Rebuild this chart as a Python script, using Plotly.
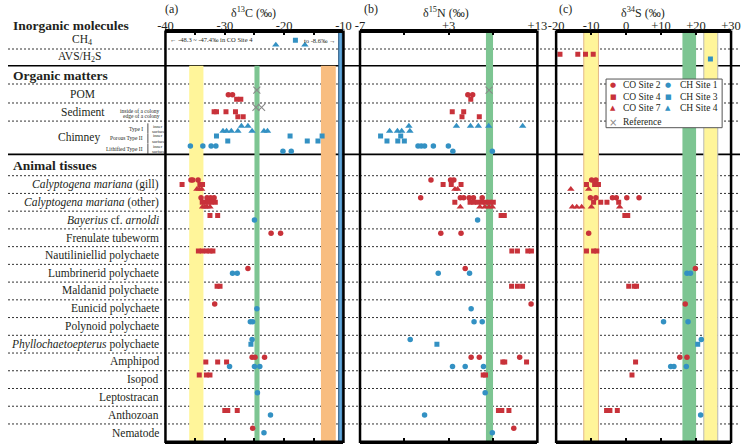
import plotly.graph_objects as go

# --- rows ---
ANIMALS = ["gill", "other", "Bayerius", "Frenulate", "Nautiliniellid", "Lumbrinerid",
           "Maldanid", "Eunicid", "Polynoid", "Phyllochaetoepterus", "Amphipod",
           "Isopod", "Leptostracan", "Anthozoan", "Nematode"]
ANIMAL_LABELS = ["<i>Calyptogena mariana</i> (gill)", "<i>Calyptogena mariana</i> (other)",
                 "<i>Bayerius</i> cf. <i>arnoldi</i>", "Frenulate tubeworm",
                 "Nautiliniellid polychaete", "Lumbrinerid polychaete", "Maldanid polychaete",
                 "Eunicid polychaete", "Polynoid polychaete",
                 "<i>Phyllochaetoepterus</i> polychaete", "Amphipod", "Isopod",
                 "Leptostracan", "Anthozoan", "Nematode"]

# --- data: {row: [values]} per panel (δ13C, δ15N, δ34S) ---
REF_C = {"POM": [-24.6], "Sediment": [-24.75, -23.8]}
REF_N = {"POM": [7.55]}
REF_S = {}

CO2_C = {"POM": [-29.4, -28.7], "gill": [-35.7, -35.4, -34.5], "other": [-34.0, -33.0, -32.4, -31.8],
         "Frenulate": [-22.2, -20.6], "Lumbrinerid": [-26.1], "Eunicid": [-31.7],
         "Amphipod": [-25.4, -24.9, -23.3], "Nematode": [-25.3]}
CO2_N = {"POM": [5.16, 5.7], "gill": [1.0, 3.21, 3.58], "other": [-0.16, 4.31, 4.69, 5.3, 5.79, 6.78],
         "Frenulate": [2.11, 4.39], "Lumbrinerid": [4.86], "Eunicid": [12.29],
         "Amphipod": [5.53, 6.45, 11.0], "Nematode": [10.34]}
CO2_S = {"gill": [-9.85, -8.64], "other": [-10.2, -8.65, -3.9, -2.8, 0.2, 3.7],
         "Frenulate": [-10.7], "Lumbrinerid": [19.8], "Eunicid": [16.9], "Amphipod": [15.35, 17.4]}

CO4_C = {"POM": [-28.0, -27.3], "Sediment inside": [-31.8, -31.4, -29.8, -28.2],
         "Sediment edge": [-27.8, -26.9], "gill": [-37.2, -34.2, -33.75],
         "other": [-33.8, -33.3, -32.8, -32.3, -31.6], "Bayerius": [-32.5, -31.2],
         "Nautiliniellid": [-34.45, -33.8, -33.1, -32.5, -32.0], "Maldanid": [-31.3, -30.8],
         "Amphipod": [-33.2, -31.2, -29.7], "Isopod": [-34.3, -33.1, -32.5],
         "Anthozoan": [-30.0, -29.5, -27.9]}
CO4_N = {"POM": [5.49], "Sediment inside": [3.4, 4.69], "Sediment edge": [4.5, 6.45],
         "gill": [2.37, 3.29, 4.39], "other": [3.69, 5.41, 5.82, 6.26, 6.7, 7.15, 7.59, 8.03],
         "Bayerius": [8.91, 9.27], "Nautiliniellid": [10.12, 10.75, 11.92, 12.33],
         "Maldanid": [10.09, 10.75, 11.33], "Amphipod": [9.1, 9.32, 11.78],
         "Isopod": [6.89, 7.15], "Anthozoan": [8.61, 8.99, 9.79]}
CO4_S = {"AVS/H2S": [-18.9, -13.8, -11.6, -9.4], "gill": [-11.33, -9.0, -7.9],
         "other": [-9.29, -7.25, -5.47, -2.12], "Bayerius": [-0.36, 0.47],
         "Nautiliniellid": [-11.33, -9.29, -8.37], "Maldanid": [0.75, 2.34, 2.98],
         "Amphipod": [2.71], "Isopod": [1.68], "Anthozoan": [-5.58, -4.63, -2.51]}

CO7_C = {"gill": [-34.7, -34.3, -33.9], "other": [-33.75, -33.35, -33.0, -32.5]}
CO7_N = {"gill": [3.7, 4.0], "other": [4.31, 6.52, 7.07, 7.55, 7.92]}
CO7_S = {"gill": [-15.8, -10.7], "other": [-15.34, -14.1, -12.7, -9.93, -1.84]}

CH1_C = {"Lithified inner": [-35.8, -33.7, -32.3, -31.5], "Lithified surface": [-20.2, -18.8],
         "Bayerius": [-25.0], "Lumbrinerid": [-28.7, -27.9], "Eunicid": [-24.6],
         "Polynoid": [-25.7, -25.3], "Phyllochaetoepterus": [-25.4],
         "Amphipod": [-29.2, -25.0, -24.1], "Leptostracan": [-24.5], "Anthozoan": [-22.3],
         "Nematode": [-23.4]}
CH1_N = {"Lithified inner": [-0.46, -0.1, 0.28, 1.27, 2.96], "Lithified surface": [3.47, 7.92],
         "Bayerius": [6.26], "Lumbrinerid": [1.82, 5.35], "Eunicid": [5.53],
         "Polynoid": [5.86, 6.78], "Phyllochaetoepterus": [-1.34], "Amphipod": [3.43, 4.86, 6.92],
         "Leptostracan": [7.11], "Anthozoan": [0.28], "Nematode": [7.92]}
CH1_S = {"Lumbrinerid": [17.4, 18.4], "Polynoid": [10.7, 17.7], "Phyllochaetoepterus": [21.5],
         "Amphipod": [12.75, 13.67, 17.21], "Anthozoan": [21.3]}

CH3_C = {"CH4": [-18.1], "Porous inner": [-31.4, -19.0, -13.6],
         "Porous surface": [-29.5, -16.1, -14.3], "Phyllochaetoepterus": [-25.6]}
CH3_N = {"Porous inner": [-4.68, -2.41], "Porous surface": [-3.96, -2.74, -2.0],
         "Phyllochaetoepterus": [1.67]}
CH3_S = {"AVS/H2S": [24.1], "Phyllochaetoepterus": [20.47]}

CH4_C = {"CH4": [-21.4, -16.5], "Type I inner": [-27.2, -26.1],
         "Type I surface": [-30.3, -29.7, -28.9, -27.8, -25.4, -23.4, -22.8]}
CH4_N = {"Type I inner": [-1.49, 3.87, 5.46, 6.34, 7.51, 11.34],
         "Type I surface": [-3.66, -2.78, -2.3, -1.38]}
CH4_S = {}

SERIES = [("Reference", (REF_C, REF_N, REF_S)), ("CO Site 2", (CO2_C, CO2_N, CO2_S)),
          ("CO Site 4", (CO4_C, CO4_N, CO4_S)), ("CO Site 7", (CO7_C, CO7_N, CO7_S)),
          ("CH Site 1", (CH1_C, CH1_N, CH1_S)), ("CH Site 3", (CH3_C, CH3_N, CH3_S)),
          ("CH Site 4", (CH4_C, CH4_N, CH4_S))]

# reference bands (low, high) per panel
BANDS_C = [(-36.0, -33.6), (-25.0, -24.15), (-13.8, -11.3), (-10.8, -10.2)]
BANDS_N = [(7.2, 8.0)]
BANDS_S = [(-12.1, -7.9), (16.1, 20.0), (22.2, 26.2)]

RED = "#c8323a"
BLUE = "#3391c3"
FONT = "Liberation Serif"
INK = "#231f20"

# vertical layout of rows (row units)
Y_BOTTOM = 23.12
UPPER_ROWS = {"CH4": 0.485, "AVS/H2S": 1.275, "POM": 3.29, "Sediment": 4.265,
              "Sediment inside": 4.51, "Sediment edge": 4.79,
              "Type I inner": 5.32, "Type I surface": 5.60, "Porous inner": 5.88,
              "Porous surface": 6.165, "Lithified inner": 6.45, "Lithified surface": 6.745}
ANIMAL_TOP = 8.12
LEVEL0, STEP = 0.24, 0.26
SOLID = [1.918, 6.915]
DOTTED = [0.976, 2.95, 4.02, 5.04] + [ANIMAL_TOP + i for i in range(15)]

STYLE = {
    "Reference": dict(symbol="x-thin-open", size=7, color="#8a8a8a", line=dict(width=1.1, color="#8a8a8a")),
    "CO Site 2": dict(symbol="circle", size=5.5, color=RED),
    "CO Site 4": dict(symbol="square", size=5, color=RED),
    "CO Site 7": dict(symbol="triangle-up", size=6.5, color=RED),
    "CH Site 1": dict(symbol="circle", size=5.5, color=BLUE),
    "CH Site 3": dict(symbol="square", size=5, color=BLUE),
    "CH Site 4": dict(symbol="triangle-up", size=6.5, color=BLUE),
}

# level of each series inside a row = its rank among the series present in that row
levels = {}
for name, dicts in SERIES:
    for d in dicts:
        for row in d:
            levels.setdefault(row, [])
            if name not in levels[row]:
                levels[row].append(name)


def row_y(row, name):
    base = UPPER_ROWS[row] if row in UPPER_ROWS else ANIMAL_TOP + ANIMALS.index(row) + LEVEL0
    return base + STEP * levels[row].index(name)


AXES = ["x", "x2", "x3"]
fig = go.Figure()
for name, dicts in SERIES:
    for ax, d in zip(AXES, dicts):
        xs, ys = [], []
        for row, vals in d.items():
            for v in vals:
                xs.append(v)
                ys.append(row_y(row, name))
        if not xs:
            continue
        fig.add_trace(go.Scatter(x=xs, y=ys, xaxis=ax, yaxis="y", mode="markers",
                                 marker=STYLE[name], showlegend=False, hoverinfo="skip"))

# --- shapes ---
shapes = []
band_style = {
    "x": [("#fff59a", None, 1.918), ("#7dc592", None, 1.918), ("#f8bd80", None, 1.918),
          ("#62a8dc", "#1d4f7a", 0)],
    "x2": [("#7dc592", None, 0)],
    "x3": [("#fff59a", "#e4b98a", 0), ("#7dc592", None, 0), ("#fff59a", "#b8b8b8", 0)],
}
for ax, bands in zip(AXES, [BANDS_C, BANDS_N, BANDS_S]):
    for (lo, hi), (fc, lc, top) in zip(bands, band_style[ax]):
        shapes.append(dict(type="rect", xref=ax, yref="y", x0=lo, x1=hi, y0=top, y1=Y_BOTTOM,
                           fillcolor=fc, line=dict(width=1 if lc else 0, color=lc or fc),
                           layer="below"))
for yv in DOTTED:
    shapes.append(dict(type="line", xref="paper", yref="y", x0=0, x1=1, y0=yv, y1=yv,
                       line=dict(color="#333333", width=1, dash="2px,2px"), layer="below"))
for yv in SOLID:
    shapes.append(dict(type="line", xref="paper", yref="y", x0=0, x1=1, y0=yv, y1=yv,
                       line=dict(color="black", width=1.6), layer="below"))
for ax in AXES:
    shapes.append(dict(type="rect", xref=ax + " domain", yref="y domain", x0=0, x1=1, y0=0, y1=1,
                       line=dict(color="black", width=2.5), layer="above"))
# chimney sub-row brackets
for y0, y1 in [(5.17, 5.75), (5.76, 6.31), (6.33, 6.89)]:
    shapes.append(dict(type="line", xref="paper", yref="y", x0=0.1911, x1=0.1911, y0=y0, y1=y1,
                       line=dict(color=INK, width=0.8)))
# legend box
LEG_X0, LEG_X1, LEG_Y0, LEG_Y1 = 0.817, 0.9756, 0.7124, 0.822
shapes.append(dict(type="rect", xref="paper", yref="paper", x0=LEG_X0, x1=LEG_X1, y0=LEG_Y0, y1=LEG_Y1,
                   fillcolor="white", line=dict(color="#555555", width=1), layer="above"))

# --- annotations ---
ann = []


def text(x, y, t, size=11, xref="paper", yref="y", xanchor="center", bold=False, color=INK,
         yanchor="middle"):
    if bold:
        t = "<b>" + t + "</b>"
    ann.append(dict(x=x, y=y, xref=xref, yref=yref, text=t, showarrow=False, xanchor=xanchor,
                    yanchor=yanchor, font=dict(family=FONT, size=size, color=color)))


text(0.004, 0.9426, "Inorganic molecules", 13.5, yref="paper", xanchor="left", bold=True)
text(0.004, 2.47, "Organic matters", 13.5, xanchor="left", bold=True)
text(0.004, 7.52, "Animal tissues", 13.5, xanchor="left", bold=True)
text(0.101, 0.47, "CH<sub>4</sub>", 11.5)
text(0.097, 1.45, "AVS/H<sub>2</sub>S", 11.5)
text(0.102, 3.5, "POM", 11.5)
text(0.102, 4.52, "Sediment", 11.5)
text(0.097, 5.98, "Chimney", 11.5)
text(0.2107, 4.49, "inside of a colony", 5.5, xanchor="right")
text(0.2107, 4.77, "edge of a colony", 5.5, xanchor="right")
for lab, yv in [("Type I", 5.46), ("Porous Type II", 6.02), ("Lithified Type II", 6.6)]:
    text(0.1875, yv, lab, 5.5, xanchor="right")
for yv, lab in zip([5.32, 5.60, 5.88, 6.165, 6.45, 6.745], ["inner", "surface"] * 3):
    text(0.2053, yv, lab, 4.5)
for i, lab in enumerate(ANIMAL_LABELS):
    text(0.2093, ANIMAL_TOP + i + 0.5, lab, 11.5, xanchor="right")

# panel titles
for xp, tag, xt, title in [(0.224, "(a)", 0.335, "δ<sup>13</sup>C (‰)"),
                           (0.496, "(b)", 0.599, "δ<sup>15</sup>N (‰)"),
                           (0.761, "(c)", 0.868, "δ<sup>34</sup>S (‰)")]:
    text(xp, 1.0, tag, 12, yref="paper", yanchor="top")
    text(xt, 0.972, title, 12, yref="paper")

# off-scale notes for CH4
text(-39.5, 0.46, "← -48.3 ~ -47.4‰ in CO Site 4", 6.5, xref="x", xanchor="left")
text(-10.9, 0.47, "to -8.6‰ →", 6.5, xref="x", xanchor="right")

# legend (text keys)
LEG = [("CO Site 2", "●", RED, 0, 0), ("CO Site 4", "■", RED, 0, 1), ("CO Site 7", "▲", RED, 0, 2),
       ("Reference", "×", "#8a8a8a", 0, 3), ("CH Site 1", "●", BLUE, 1, 0),
       ("CH Site 3", "■", BLUE, 1, 1), ("CH Site 4", "▲", BLUE, 1, 2)]
col_sym = [0.8267, 0.9022]
col_txt = [0.8369, 0.9156]
row_y_leg = [0.8086, 0.7822, 0.7561, 0.7245]
for lab, sym, col, c, r in LEG:
    ann.append(dict(x=col_sym[c], y=row_y_leg[r], xref="paper", yref="paper", text=sym,
                    showarrow=False, xanchor="center", yanchor="middle",
                    font=dict(family="DejaVu Sans", size=7 if sym != "×" else 10, color=col)))
    text(col_txt[c], row_y_leg[r], lab, 9.5, yref="paper", xanchor="left")

axis_common = dict(showline=True, linewidth=2.5, linecolor="black", mirror="ticks", ticks="inside",
                   ticklen=4, tickwidth=1.5, tickcolor="black", side="top", anchor="y",
                   showgrid=False, zeroline=False, fixedrange=True, ticklabelstandoff=-6,
                   tickfont=dict(family=FONT, size=12.5, color=INK))
minor_common = dict(ticks="inside", ticklen=4, tickwidth=1.5, tickcolor="black", showgrid=False)

fig.update_layout(
    width=750, height=444, margin=dict(l=0, r=0, t=0, b=0),
    paper_bgcolor="white", plot_bgcolor="rgba(0,0,0,0)", showlegend=False,
    xaxis=dict(domain=[0.2151, 0.4583], range=[-40, -10], tickvals=[-40, -30, -20, -10],
               ticktext=["-40", "-30", "-20", "-10"],
               minor=dict(tickvals=[-35, -25, -15], **minor_common), **axis_common),
    xaxis2=dict(domain=[0.4809, 0.7232], range=[-7, 13], tickvals=[-7, 3, 13],
                ticktext=["-7", "+3", "+13"],
                minor=dict(tickvals=[-2, 8], **minor_common), **axis_common),
    xaxis3=dict(domain=[0.7488, 0.9878], range=[-20, 30], tickvals=[-20, -10, 0, 10, 20, 30],
                ticktext=["-20", "-10", "0", "+10", "+20", "+30"], **axis_common),
    yaxis=dict(domain=[0.00518, 0.9286], range=[Y_BOTTOM, 0], visible=False, fixedrange=True),
    shapes=shapes, annotations=ann,
)

fig.write_html("out.html", config={"displayModeBar": False},
               post_script="document.body.style.margin='0px';")
